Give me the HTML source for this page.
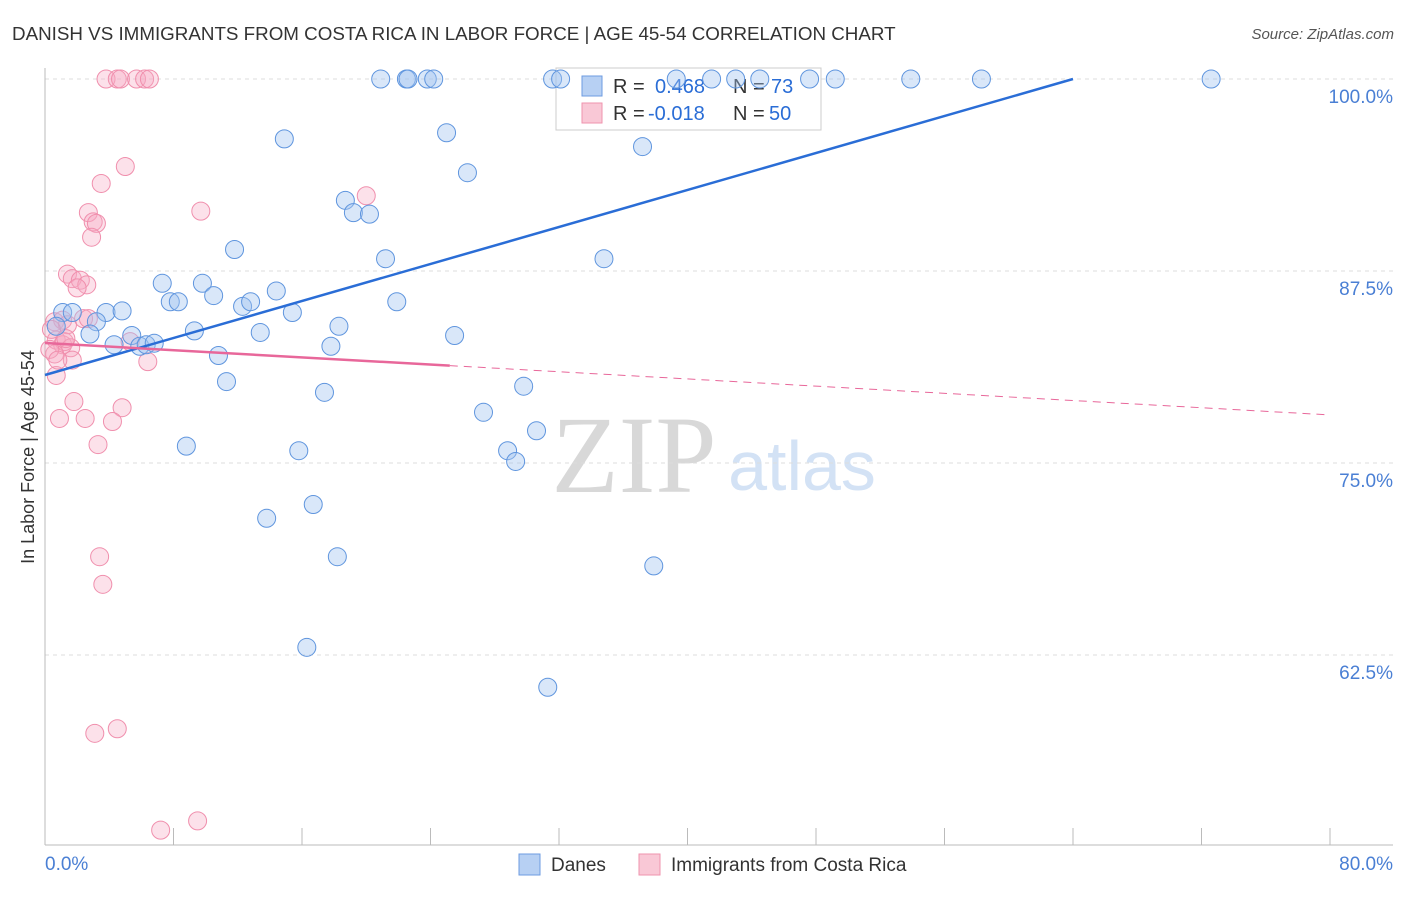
<!DOCTYPE html>
<html><head><meta charset="utf-8"><style>
body{margin:0;background:#fff;font-family:"Liberation Sans",sans-serif}
</style></head><body>
<svg id="c" width="1406" height="892" style="font-family:'Liberation Sans',sans-serif">
<text x="12" y="40" font-size="18.8" fill="#333">DANISH VS IMMIGRANTS FROM COSTA RICA IN LABOR FORCE | AGE 45-54 CORRELATION CHART</text>
<text x="1394" y="39" font-size="15" fill="#555" font-style="italic" text-anchor="end">Source: ZipAtlas.com</text>
<text x="634" y="492" font-size="110" fill="#d8d8d8" style="font-family:'Liberation Serif',serif" text-anchor="middle">ZIP</text>
<text x="802" y="490" font-size="70" fill="#d3e2f5" text-anchor="middle">atlas</text>
<text transform="translate(34,457) rotate(-90)" font-size="18" fill="#333" text-anchor="middle">In Labor Force | Age 45-54</text>
<g id="grid"></g>
<g>
<rect x="556" y="68" width="265" height="62" fill="#fff" stroke="#ccc"/>
<rect x="582" y="76" width="20" height="20" fill="#b7d0f3" stroke="#6d9be0"/>
<rect x="582" y="103" width="20" height="20" fill="#f9c8d6" stroke="#ef93ae"/>
<text x="613" y="93" font-size="20" fill="#333">R = <tspan x="655" fill="#2a6dd6">0.468</tspan><tspan x="733">N = </tspan><tspan x="771" fill="#2a6dd6">73</tspan></text>
<text x="613" y="120" font-size="20" fill="#333">R = <tspan x="648" fill="#2a6dd6">-0.018</tspan><tspan x="733">N = </tspan><tspan x="769" fill="#2a6dd6">50</tspan></text>
</g>
<g id="marks"></g>
<g>
<rect x="519" y="854" width="21" height="21" fill="#b7d0f3" stroke="#6d9be0"/>
<text x="551" y="871" font-size="19" fill="#333">Danes</text>
<rect x="639" y="854" width="21" height="21" fill="#f9c8d6" stroke="#ef93ae"/>
<text x="671" y="871" font-size="19" fill="#333">Immigrants from Costa Rica</text>
</g>
</svg>
<script>
const yTicks=[100,87.5,75,62.5];
const yTickLabels=["100.0%","87.5%","75.0%","62.5%"];
const xTickLabels=["0.0%","80.0%"];
const danesX=[20.9,22.5,22.6,23.8,24.2,31.6,32.1,39.3,41.5,43.0,44.5,47.6,49.2,53.9,58.3,72.6,14.9,25.0,37.2,26.3,18.7,19.2,20.2,11.8,21.2,34.8,7.3,9.8,14.4,10.5,7.8,8.3,12.3,12.8,21.9,15.4,1.1,1.7,3.8,4.8,3.2,18.3,13.4,9.3,5.4,2.8,25.5,0.7,4.3,5.9,6.3,6.8,17.8,10.8,11.3,29.8,17.4,27.3,30.6,28.8,29.3,8.8,15.8,16.7,13.8,18.2,37.9,16.3,31.3];
const danesY=[100,100,100,100,100,100,100,100,100,100,100,100,100,100,100,100,96.1,96.5,95.6,93.9,92.1,91.3,91.2,88.9,88.3,88.3,86.7,86.7,86.2,85.9,85.5,85.5,85.2,85.5,85.5,84.8,84.8,84.8,84.8,84.9,84.2,83.9,83.5,83.6,83.3,83.4,83.3,83.9,82.7,82.6,82.7,82.8,82.6,82.0,80.3,80.0,79.6,78.3,77.1,75.8,75.1,76.1,75.8,72.3,71.4,68.9,68.3,63.0,60.4];
const costaX=[3.8,4.5,4.7,5.7,6.2,6.5,5.0,3.5,20.0,9.7,2.7,3.0,3.2,2.9,1.4,1.7,2.2,2.6,2.0,0.6,1.1,1.4,2.4,2.7,0.7,1.1,1.2,1.6,0.6,1.7,6.4,5.3,0.7,1.8,4.8,0.9,2.5,4.2,3.3,3.4,3.6,3.1,4.5,7.2,9.5,0.3,0.4,0.8,1.3];
const costaY=[100,100,100,100,100,100,94.3,93.2,92.4,91.4,91.3,90.7,90.6,89.7,87.3,87.0,86.9,86.6,86.4,84.2,84.3,84.0,84.4,84.4,83.0,82.7,82.9,82.5,82.1,81.7,81.6,82.9,80.7,79.0,78.6,77.9,77.9,77.7,76.2,68.9,67.1,57.4,57.7,51.1,51.7,82.4,83.7,81.7,83.1];
const danesTrend=[[0,80.73],[64,100]];
const costaTrend=[[0,82.81],[25.2,81.34],[80,78.13]];
const NS="http://www.w3.org/2000/svg";
const X=v=>45+v*16.0625, Y=v=>79+(100-v)*15.36;
function mk(t,a,p){const e=document.createElementNS(NS,t);for(const k in a)e.setAttribute(k,a[k]);p.appendChild(e);return e;}
const g=document.getElementById('grid'),m=document.getElementById('marks');
yTicks.forEach((t,i)=>{
 const l=mk('line',{x1:45,x2:1393,y1:Y(t),y2:Y(t),stroke:'#ddd','stroke-dasharray':'4,4'},g);
 
 
 const tx=mk('text',{x:1393,y:Y(t)+24,'font-size':19,fill:'#4a7fd4','text-anchor':'end'},g);tx.textContent=yTickLabels[i];
 
 
});
for(let i=0;i<=10;i++){const l=mk('line',{x1:X(i*8),x2:X(i*8),y1:828,y2:845,stroke:'#bbb'},g);
 
 }
const ya=mk('line',{x1:45,x2:45,y1:68,y2:845,stroke:'#bbb'},g);


const xa=mk('line',{x1:45,x2:1393,y1:845,y2:845,stroke:'#bbb'},g);


[[45,'start',0],[1393,'end',1]].forEach(([x,a,i])=>{const t=mk('text',{x:x,y:870,'font-size':19,fill:'#4a7fd4','text-anchor':a},g);t.textContent=xTickLabels[i];
 
 });
costaX.forEach((x,i)=>{const c=mk('circle',{cx:X(x),cy:Y(costaY[i]),r:9,fill:'rgba(246,170,195,0.35)',stroke:'#f08fad','stroke-width':1},m);
 
 });
danesX.forEach((x,i)=>{const c=mk('circle',{cx:X(x),cy:Y(danesY[i]),r:9,fill:'rgba(160,195,240,0.4)',stroke:'#5f95de','stroke-width':1},m);
 
 });
const bt=mk('line',{x1:X(danesTrend[0][0]),y1:Y(danesTrend[0][1]),x2:X(danesTrend[1][0]),y2:Y(danesTrend[1][1]),stroke:'#2a6dd6','stroke-width':2.5},m);


const pt=mk('line',{x1:X(costaTrend[0][0]),y1:Y(costaTrend[0][1]),x2:X(costaTrend[1][0]),y2:Y(costaTrend[1][1]),stroke:'#e8679a','stroke-width':2.5},m);


const pd=mk('line',{x1:X(costaTrend[1][0]),y1:Y(costaTrend[1][1]),x2:X(costaTrend[2][0]),y2:Y(costaTrend[2][1]),stroke:'#e8679a','stroke-width':1,'stroke-dasharray':'8,6'},m);


</script>
</body></html>
